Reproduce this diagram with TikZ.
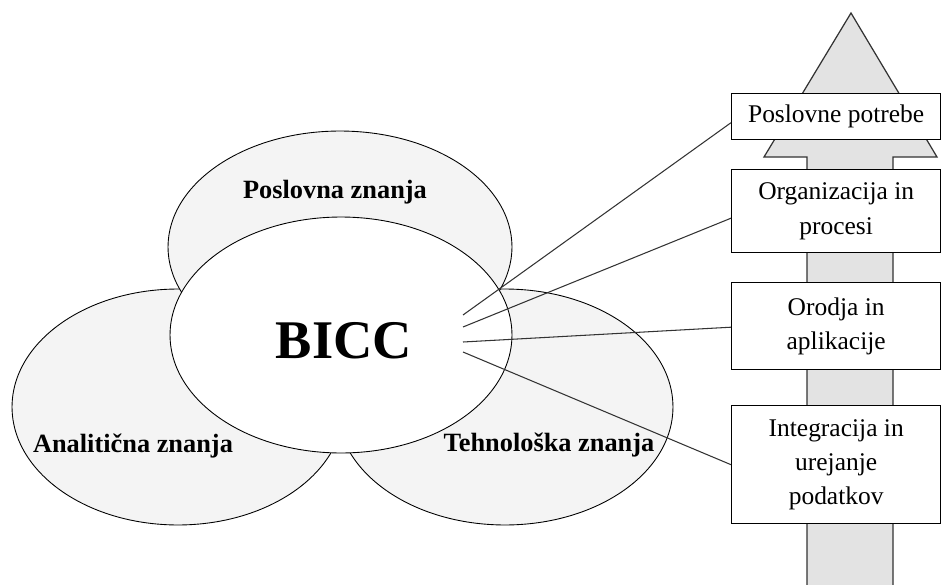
\documentclass[tikz,border=0pt]{standalone}
\usepackage{fontspec}
\setmainfont{Liberation Serif}
\usepackage{tikz}
\usetikzlibrary{shapes.geometric, positioning, calc}

\begin{document}
\begin{tikzpicture}[
    x=0.02cm, y=-0.02cm,
    % Node styles
    areaellipse/.style={draw, ellipse, fill=gray!9, line width=0.5pt, inner sep=0pt},
    coreellipse/.style={draw, ellipse, fill=white, line width=0.5pt, inner sep=0pt},
    arealabel/.style={font=\fontsize{15}{17}\selectfont\bfseries, inner sep=0pt},
    levelbox/.style={draw, fill=white, align=center, anchor=north west, minimum width=4.18cm, line width=0.8pt, inner sep=2pt, font=\fontsize{14.5}{19.5}\selectfont},
    link/.style={line width=0.6pt, color=black!80}
]
\useasboundingbox (0,0) rectangle (941,585);

% ========== BIG ARROW ==========
\path[fill=gray!22] (851,13) -- (937,157) -- (893,157) -- (893,590) -- (807,590) -- (807,157) -- (764,157) -- cycle;
\draw[line width=0.7pt, black!80] (807,590) -- (807,157) -- (764,157) -- (851,13) -- (937,157) -- (893,157) -- (893,590);

% ========== KNOWLEDGE AREAS ==========
\node[areaellipse, minimum width=6.64cm, minimum height=4.72cm] (anal) at (178,407) {};
\node[areaellipse, minimum width=6.72cm, minimum height=4.72cm] (tech) at (505,407) {};
\node[areaellipse, minimum width=6.88cm, minimum height=4.64cm] (posl) at (340,247) {};
\node[coreellipse, minimum width=6.84cm, minimum height=4.72cm] (bicc) at (341,335) {};

% Labels
\node[arealabel] (posllabel) at (335,192) {Poslovna znanja};
\node[arealabel] (anallabel) at (133,446) {Analitična znanja};
\node[arealabel] (techlabel) at (549,445) {Tehnološka znanja};
\node[font=\fontsize{31}{33}\selectfont\bfseries, inner sep=0pt] (bicclabel) at (344,341) {BICC};

% ========== LEVELS ==========
\node[levelbox, minimum height=0.92cm] (need) at (731,93) {Poslovne potrebe};
\node[levelbox, minimum height=1.66cm] (orga) at (731,169) {Organizacija in\\procesi};
\node[levelbox, minimum height=1.74cm] (tool) at (731,282) {Orodja in\\aplikacije};
\node[levelbox, minimum height=2.36cm] (data) at (731,405) {Integracija in\\urejanje\\podatkov};

% ========== CONNECTORS ==========
\coordinate (s1) at (463,315);
\coordinate (s2) at (463,327);
\coordinate (s3) at (463,342);
\coordinate (s4) at (463,352);

\draw[link] (s1) -- ($(need.west)+(0,6)$);
\draw[link] (s2) -- ($(orga.west)+(0,7)$);
\draw[link] (s3) -- ($(tool.west)+(0,1)$);
\draw[link] (s4) -- (data.west);

\end{tikzpicture}
\end{document}
